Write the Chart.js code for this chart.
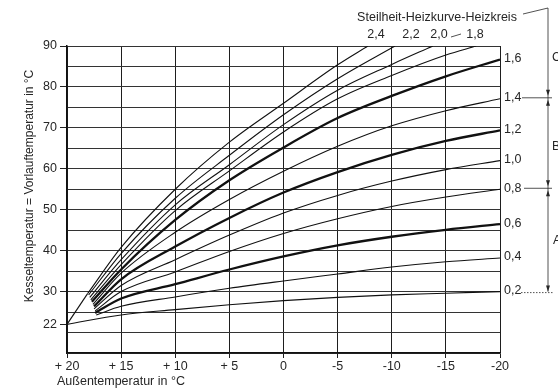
<!DOCTYPE html>
<html>
<head>
<meta charset="utf-8">
<script src="https://cdn.jsdelivr.net/npm/chart.js@4.4.1/dist/chart.umd.min.js"></script>
<style>
  html, body { margin: 0; padding: 0; background: #fff; }
  #wrap { width: 558px; height: 391px; }
</style>
</head>
<body>
<div id="wrap"><canvas id="chart" width="558" height="391"></canvas></div>
<script>
// Heizkennlinien — flow temperature vs outdoor temperature, one curve per slope.

const FONT = "'Liberation Sans', Arial, Helvetica, sans-serif";
const INK = '#262626';

// outdoor temperatures at the vertical gridlines
const outdoorTemps = [15, 10, 5, 0, -5, -10, -15, -20];

// slopes and flow temperatures read at each outdoor temperature (null = above 90)
const slopes = ['0,2', '0,4', '0,6', '0,8', '1,0', '1,2', '1,4', '1,6', '1,8', '2,0', '2,2', '2,4'];
const vl02 = [24.3, 25.6, 26.8, 27.8, 28.6, 29.2, 29.6, 30.0];
const vl04 = [26.4, 28.7, 30.8, 32.6, 34.3, 36.0, 37.3, 38.2];
const vl06 = [28.3, 31.8, 35.4, 38.6, 41.3, 43.4, 45.1, 46.5];
const vl08 = [30.0, 34.8, 39.8, 44.2, 47.8, 50.8, 53.1, 55.0];
const vl10 = [31.5, 37.8, 43.8, 49.2, 53.5, 57.0, 59.8, 62.0];
const vl12 = [33.0, 41.0, 48.0, 54.2, 59.2, 63.4, 66.8, 69.4];
const vl14 = [34.5, 44.5, 52.5, 59.4, 65.5, 70.5, 74.2, 77.1];
const vl16 = [35.4, 47.5, 57.2, 65.2, 72.4, 77.8, 82.6, 86.7];
const vl18 = [36.6, 49.8, 59.5, 69.0, 77.1, 82.8, 87.8, null];
const vl20 = [37.8, 51.2, 61.0, 70.8, 79.2, 85.5, null, null];
const vl22 = [39.3, 52.8, 63.3, 73.2, 82.0, null, null, null];
const vl24 = [40.8, 55.0, 66.5, 76.0, 85.4, null, null, null];
const curveValues = [vl02, vl04, vl06, vl08, vl10, vl12, vl14, vl16, vl18, vl20, vl22, vl24];

// where each curve begins (left end) and where the steep ones leave the top (90 °C)
const startX = [20, 17.3, 17.4, 17.4, 17.5, 17.5, 17.6, 17.7, 17.8, 17.9, 18.0, 18.1];
const startY = [22, 24.3, 24.8, 25.3, 25.8, 26.4, 26.9, 27.5, 28.0, 28.6, 29.2, 29.5];
const exitX = [null, null, null, null, null, null, null, null, -17.8, -13.8, -10.3, -7.8];
const boldSlopes = ['0,6', '1,2', '1,6'];

// straight boundary line from the 22 °C point to the start of the steepest curve
const boundaryX = [20, 18.1];
const boundaryY = [22, 29.5];

// axis ticks
const xTickValues = [20, 15, 10, 5, 0, -5, -10, -15, -20];
const xTickLabels = ['+ 20', '+ 15', '+ 10', '+ 5', '0', '-5', '-10', '-15', '-20'];
const yGridValues = [15, 20, 22, 25, 30, 35, 40, 45, 50, 55, 60, 65, 70, 75, 80, 85, 90];
const yLabelValues = [22, 30, 40, 50, 60, 70, 80, 90];

const datasets = curveValues.map((vals, i) => {
  const pts = [{ x: startX[i], y: startY[i] }];
  vals.forEach((v, j) => { if (v != null) pts.push({ x: outdoorTemps[j], y: v }); });
  if (exitX[i] != null) pts.push({ x: exitX[i], y: 90 });
  const bold = boldSlopes.includes(slopes[i]);
  return {
    label: slopes[i],
    data: pts,
    showLine: true,
    borderColor: '#111',
    borderWidth: bold ? 2.3 : 1.1,
    pointRadius: 0,
    cubicInterpolationMode: 'monotone',
    fill: false,
  };
});
datasets.push({
  label: 'boundary',
  data: boundaryX.map((x, i) => ({ x, y: boundaryY[i] })),
  showLine: true,
  borderColor: '#111',
  borderWidth: 1.1,
  pointRadius: 0,
});

// annotations: axis titles, slope labels, bracket on the right
const annotations = {
  id: 'annotations',
  afterDraw(chart) {
    const { ctx, chartArea, scales } = chart;
    const ys = scales.y;
    ctx.save();
    ctx.fillStyle = INK;
    ctx.strokeStyle = INK;

    // y title
    ctx.save();
    ctx.translate(30, 186);
    ctx.rotate(-Math.PI / 2);
    ctx.font = '12px ' + FONT;
    ctx.textAlign = 'center';
    ctx.textBaseline = 'middle';
    ctx.fillText('Kesseltemperatur = Vorlauftemperatur in °C', 0, 0);
    ctx.restore();

    // x title
    ctx.font = '12.5px ' + FONT;
    ctx.textAlign = 'left';
    ctx.textBaseline = 'middle';
    ctx.fillText('Außentemperatur in °C', 57, 382);

    // slope labels at the right end of the curves
    ctx.font = '12.5px ' + FONT;
    curveValues.forEach((vals, i) => {
      const last = vals[vals.length - 1];
      if (last == null) return;
      ctx.fillText(slopes[i], chartArea.right + 4, ys.getPixelForValue(last) - 1);
    });

    // slopes leaving through the top
    ctx.textAlign = 'center';
    ctx.fillText('Steilheit-Heizkurve-Heizkreis', 437, 18);
    ctx.fillText('2,4', 376, 35);
    ctx.fillText('2,2', 411, 35);
    ctx.fillText('2,0', 439, 35);
    ctx.fillText('1,8', 475, 35);
    ctx.lineWidth = 0.8;
    ctx.beginPath();
    ctx.moveTo(451, 37); ctx.lineTo(461, 34);
    ctx.stroke();

    // bracket on the right with leaders
    const bx = 548;
    const y14 = ys.getPixelForValue(vl14[7]);
    const y08 = ys.getPixelForValue(vl08[7]);
    const y02 = ys.getPixelForValue(vl02[7]);
    ctx.lineWidth = 0.8;
    ctx.beginPath();
    ctx.moveTo(523, 14); ctx.lineTo(bx, 8);
    ctx.moveTo(bx, 8); ctx.lineTo(bx, y02);
    ctx.moveTo(522, y14 - 1); ctx.lineTo(bx + 4, y14 - 1);
    ctx.moveTo(524, y08 - 1); ctx.lineTo(bx + 4, y08 - 1);
    ctx.stroke();
    ctx.setLineDash([1.5, 1.5]);
    ctx.beginPath();
    ctx.moveTo(521, y02 + 1); ctx.lineTo(bx + 5, y02 + 1);
    ctx.stroke();
    ctx.setLineDash([]);

    function arrow(y, dir) {
      ctx.beginPath();
      ctx.moveTo(bx, y);
      ctx.lineTo(bx - 2, y - dir * 6);
      ctx.lineTo(bx + 2, y - dir * 6);
      ctx.closePath();
      ctx.fill();
    }
    arrow(y14 - 3, 1);
    arrow(y14 + 1, -1);
    arrow(y08 - 3, 1);
    arrow(y08 + 1, -1);
    arrow(y02, 1);

    ctx.font = '12.5px ' + FONT;
    ctx.textAlign = 'left';
    ctx.fillText('C', 552, 58);
    ctx.fillText('B', 552, 147);
    ctx.fillText('A', 553, 241);
    ctx.restore();
  }
};

new Chart(document.getElementById('chart'), {
  type: 'scatter',
  data: { datasets },
  options: {
    responsive: false,
    animation: false,
    layout: { padding: { top: 46, right: 58, left: 0, bottom: 0 } },
    plugins: { legend: { display: false }, tooltip: { enabled: false } },
    scales: {
      x: {
        type: 'linear',
        reverse: true,
        min: -20,
        max: 20,
        afterFit: (s) => { s.height = 38; },
        afterBuildTicks: (s) => { s.ticks = xTickValues.map(v => ({ value: v })); },
        ticks: {
          color: INK,
          font: { family: FONT, size: 12.5 },
          padding: 1,
          maxRotation: 0,
          callback: (v) => xTickLabels[xTickValues.indexOf(v)],
        },
        grid: { color: '#1e1e1e', lineWidth: 1, tickLength: 5, tickColor: '#1e1e1e' },
        border: { color: '#111', width: 1.5 },
      },
      y: {
        type: 'linear',
        min: 15,
        max: 90,
        afterFit: (s) => { s.width = 67; },
        afterBuildTicks: (s) => { s.ticks = yGridValues.map(v => ({ value: v })); },
        ticks: {
          color: INK,
          font: { family: FONT, size: 12.5 },
          padding: 3,
          autoSkip: false,
          callback: (v) => yLabelValues.includes(v) ? String(v) : '',
        },
        grid: {
          lineWidth: 1,
          tickLength: 7,
          color: (c) => (c.tick && c.tick.value === 22) ? 'rgba(0,0,0,0)' : '#333',
          tickColor: (c) => (c.tick && yLabelValues.includes(c.tick.value)) ? '#222' : 'rgba(0,0,0,0)',
        },
        border: { color: '#111', width: 1.5 },
      }
    }
  },
  plugins: [annotations]
});
</script>
</body>
</html>
